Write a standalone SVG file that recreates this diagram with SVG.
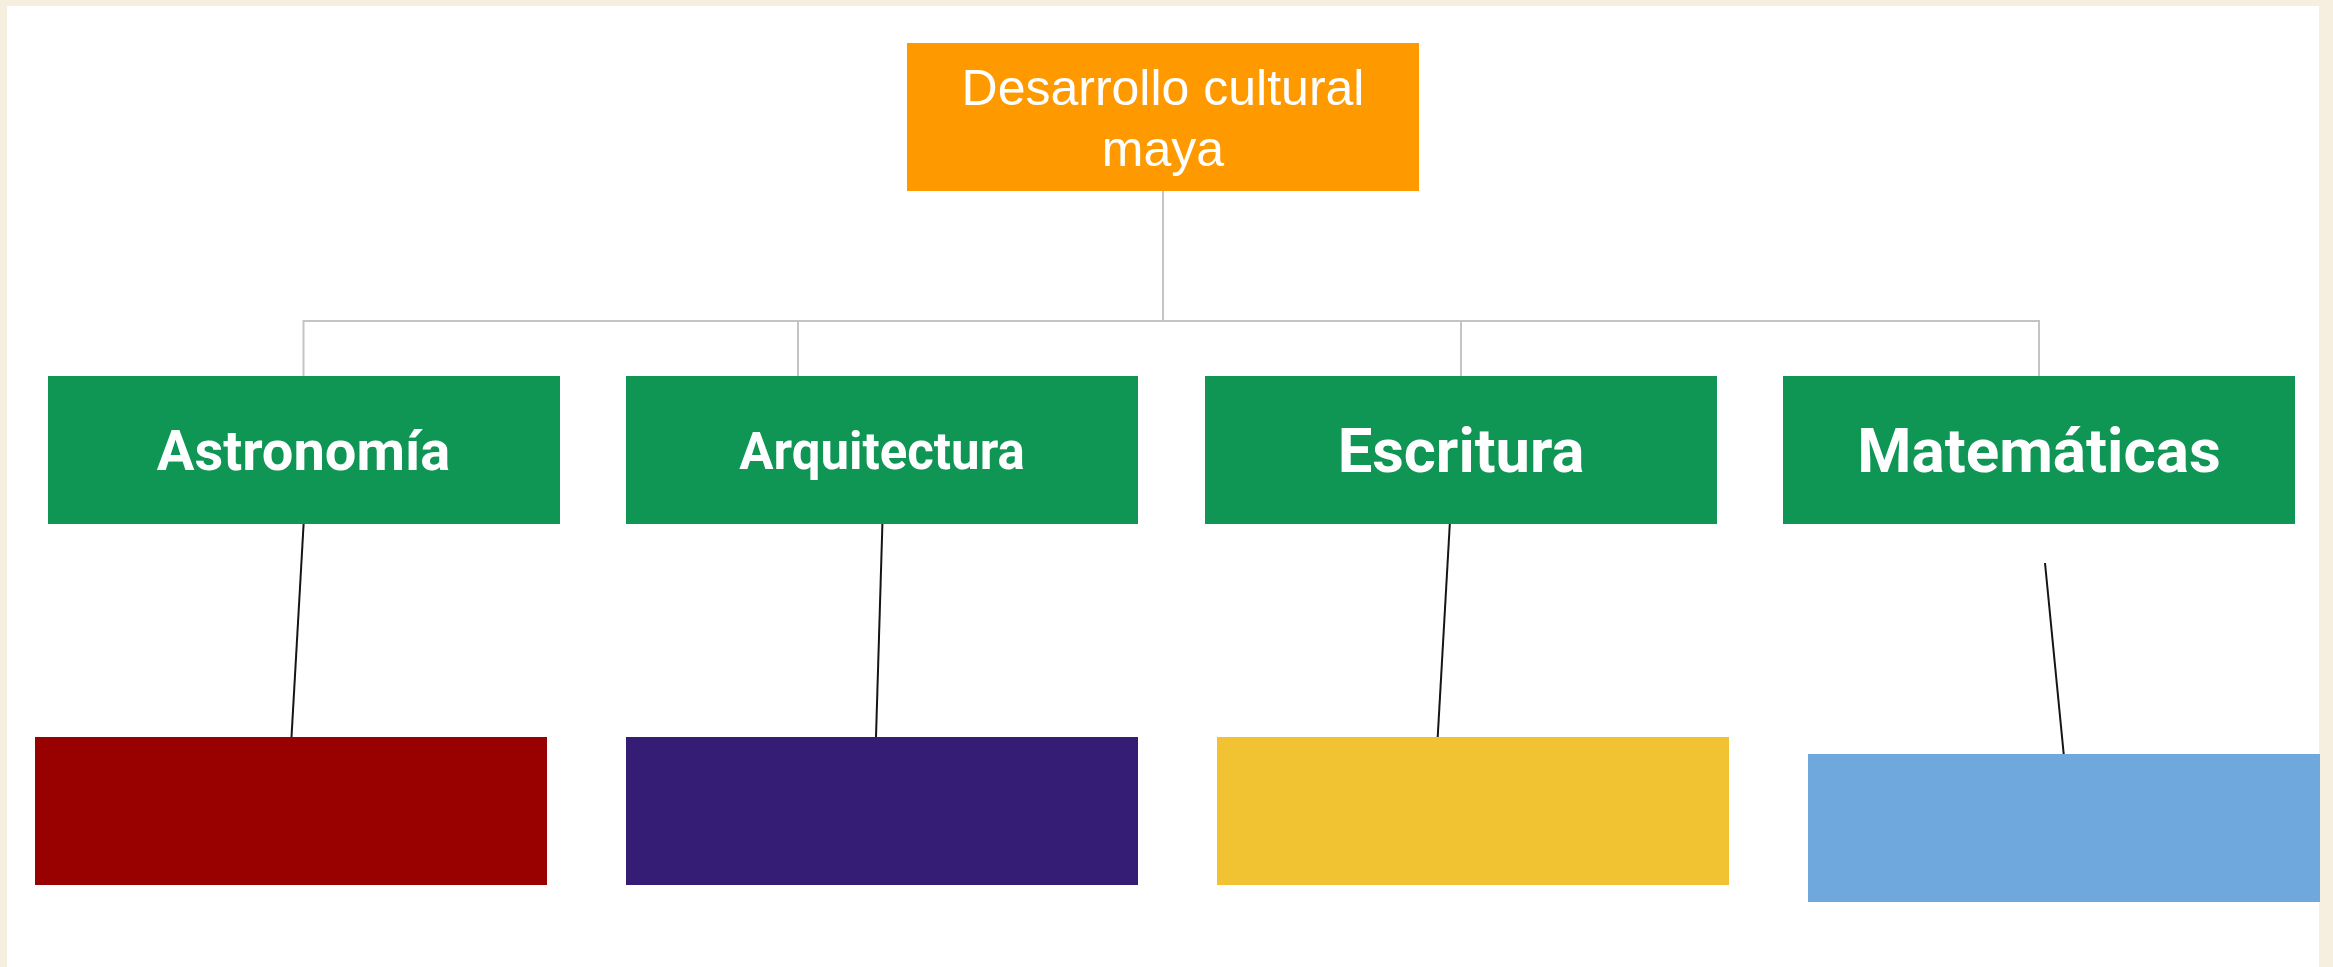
<svg xmlns="http://www.w3.org/2000/svg" width="2333" height="967" viewBox="0 0 2333 967">
<style>
.frame{fill:#f6efdf}
.page{fill:#ffffff}
.root{fill:#ff9900}
.cat{fill:#109654}
.rootText{font-family:"Liberation Sans",Arial,sans-serif;font-size:50px;fill:#ffffff;text-anchor:middle}
.catText{font-family:Roboto,"Liberation Sans",sans-serif;font-weight:bold;fill:#ffffff;text-anchor:middle}
.elbow{fill:none;stroke:#c4c4c4;stroke-width:2}
.link{fill:none;stroke:#151515;stroke-width:2}
</style>
<rect class="frame" x="0" y="0" width="2333" height="967"/>
<rect class="page" x="7" y="6" width="2312" height="961"/>
<g id="connectors">
<path class="elbow" d="M1163,191 V321 H303.5 V376"/>
<path class="elbow" d="M1163,191 V321 H798 V376"/>
<path class="elbow" d="M1163,191 V321 H1461 V376"/>
<path class="elbow" d="M1163,191 V321 H2039 V376"/>
<line class="link" x1="303.6" y1="524" x2="291.5" y2="737"/>
<line class="link" x1="882.4" y1="524" x2="876" y2="737"/>
<line class="link" x1="1449.8" y1="524" x2="1437.7" y2="737"/>
<line class="link" x1="2045" y1="563" x2="2063.7" y2="754"/>
</g>
<g id="root">
<rect class="root" x="907" y="43" width="512" height="148"/>
<text class="rootText" x="1163" y="105">Desarrollo cultural</text>
<text class="rootText" x="1163" y="166">maya</text>
</g>
<g id="astronomia">
<rect class="cat" x="48" y="376" width="512" height="148"/>
<text class="catText" x="303.5" y="470" font-size="56">Astronomía</text>
</g>
<g id="arquitectura">
<rect class="cat" x="626" y="376" width="512" height="148"/>
<text class="catText" x="882" y="469" font-size="51">Arquitectura</text>
</g>
<g id="escritura">
<rect class="cat" x="1205" y="376" width="512" height="148"/>
<text class="catText" x="1461" y="472" font-size="61.5">Escritura</text>
</g>
<g id="matematicas">
<rect class="cat" x="1783" y="376" width="512" height="148"/>
<text class="catText" x="2039" y="472" font-size="62">Matemáticas</text>
</g>
<g id="box-red"><rect x="35" y="737" width="512" height="148" fill="#990000"/></g>
<g id="box-purple"><rect x="626" y="737" width="512" height="148" fill="#351c75"/></g>
<g id="box-yellow"><rect x="1217" y="737" width="512" height="148" fill="#f1c232"/></g>
<g id="box-blue"><rect x="1808" y="754" width="512" height="148" fill="#6fa8dc"/></g>
</svg>
